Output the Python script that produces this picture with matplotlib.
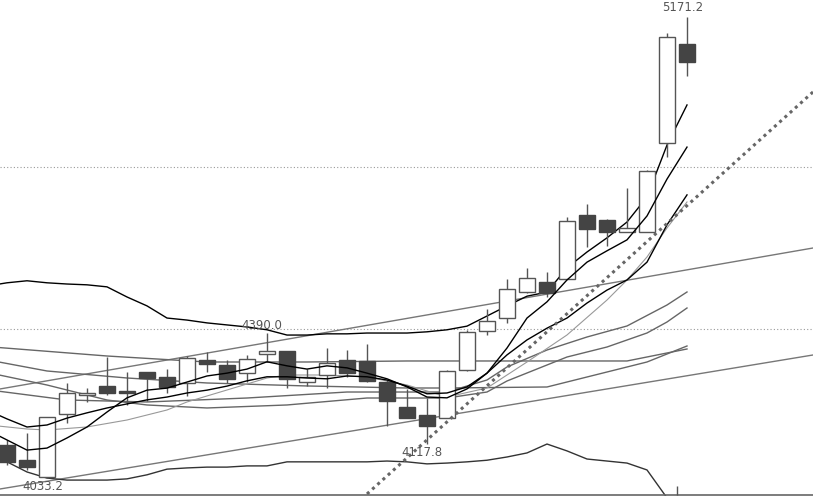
import matplotlib
matplotlib.use('Agg')
import matplotlib.pyplot as plt
from matplotlib.patches import Rectangle

# candle data (price), one per bar
opens = [4114.7, 4077.6, 4035.7, 4191.2, 4238.1, 4260.3, 4248.0, 4294.9, 4282.5, 4267.7,
         4324.5, 4312.1, 4292.4, 4339.3, 4346.7, 4270.2, 4287.5, 4324.5, 4322.0, 4270.2,
         4208.5, 4188.7, 4181.3, 4299.8, 4396.1, 4428.2, 4492.3, 4517.0, 4524.4, 4682.4,
         4670.1, 4640.5, 4640.5, 4860.2, 5104.5]
highs = [4127.0, 4144.3, 4183.8, 4267.7, 4255.4, 4331.9, 4294.9, 4294.9, 4302.3, 4334.4,
         4344.2, 4324.5, 4336.8, 4390.0, 4346.7, 4302.3, 4354.1, 4349.2, 4364.0, 4275.1,
         4252.9, 4230.7, 4299.8, 4398.5, 4450.4, 4524.4, 4551.6, 4541.7, 4677.5, 4709.6,
         4672.5, 4749.1, 4793.5, 5131.7, 5171.2]
lows = [4065.3, 4052.9, 4033.2, 4169.0, 4220.8, 4238.1, 4213.4, 4223.3, 4243.0, 4235.6,
        4294.9, 4267.7, 4270.2, 4319.5, 4255.4, 4260.3, 4255.4, 4282.5, 4270.2, 4161.6,
        4181.3, 4117.8, 4181.3, 4297.3, 4386.2, 4415.8, 4489.9, 4480.0, 4524.4, 4603.4,
        4605.9, 4640.5, 4640.5, 4825.6, 5025.5]
closes = [4072.7, 4060.4, 4183.8, 4243.0, 4243.0, 4243.0, 4243.0, 4280.1, 4257.8, 4329.4,
          4314.6, 4277.6, 4327.0, 4346.7, 4277.6, 4282.5, 4317.1, 4292.4, 4272.6, 4223.3,
          4181.3, 4161.6, 4297.3, 4393.6, 4420.8, 4499.7, 4526.9, 4489.9, 4667.6, 4647.9,
          4640.5, 4650.3, 4791.0, 5121.8, 5060.1]

# moving averages / bands, one value per bar, starting with the bar just off the left edge
line_x = list(range(-1, 35))
ma5 = [4152, 4127, 4102, 4107, 4132, 4159, 4196, 4231, 4250, 4255, 4270, 4285, 4292, 4302,
       4320, 4310, 4302, 4310, 4305, 4292, 4278, 4258, 4233, 4231, 4253, 4292, 4354, 4428,
       4468, 4522, 4566, 4594, 4621, 4680, 4771, 4850]
ma10 = [4201, 4179, 4159, 4164, 4181, 4194, 4206, 4216, 4226, 4233, 4243, 4250, 4260, 4273,
        4283, 4283, 4280, 4278, 4285, 4283, 4275, 4260, 4241, 4243, 4258, 4292, 4337, 4374,
        4403, 4428, 4465, 4497, 4522, 4566, 4658, 4732]
boll_up = [4507, 4515, 4520, 4515, 4512, 4510, 4505, 4480, 4458, 4428, 4423, 4416, 4411, 4406,
           4399, 4386, 4386, 4389, 4389, 4391, 4391, 4391, 4394, 4399, 4408, 4433, 4458, 4482,
           4492, 4552, 4591, 4626, 4665, 4727, 4855, 4954]
boll_dn = [4100, 4073, 4048, 4033, 4028, 4028, 4028, 4031, 4041, 4055, 4058, 4060, 4060, 4063,
           4063, 4073, 4073, 4073, 4073, 4073, 4075, 4073, 4068, 4070, 4073, 4077, 4085, 4095,
           4117, 4100, 4080, 4075, 4070, 4053, 3984, 3942]

# slower lines, read at selected bars (-0.35 is the left edge)
mid_x = [-0.35, 2, 4, 5, 7, 10, 14, 18, 22, 24, 25, 27, 28, 30, 32, 33, 34]
mid_y = [4287.0, 4262.7, 4238.0, 4225.7, 4213.4, 4206.0, 4213.4, 4230.6, 4230.6, 4245.4,
         4272.6, 4312.1, 4331.8, 4356.5, 4391.1, 4418.2, 4452.8]
g1_x = [-0.35, 5, 10, 15, 20, 25, 31, 34]
g1_y = [4355.0, 4334.3, 4319.5, 4319.5, 4322.0, 4322.0, 4322.0, 4351.6]
r_x = [-0.35, 2, 6, 10, 15, 20, 22, 27, 30, 32, 34]
r_y = [4319.0, 4297.3, 4280.0, 4267.7, 4260.3, 4255.3, 4255.3, 4257.8, 4294.8, 4319.5, 4359.0]
tg_x = [-0.35, 1, 2, 4, 6, 8, 9, 11, 13, 14, 16, 18, 20, 22, 24, 26, 28, 30, 31, 32, 33, 34]
tg_y = [4161.0, 4154.1, 4151.6, 4159.1, 4176.3, 4201.0, 4220.8, 4250.4, 4280.0, 4287.4,
        4287.4, 4282.5, 4262.7, 4233.1, 4255.3, 4319.5, 4386.2, 4472.5, 4521.9, 4578.7,
        4650.3, 4714.5]
p_x = [-0.35, 3, 7, 12, 17, 22, 24, 25, 27, 29, 31, 33, 34]
p_y = [4247.0, 4225.7, 4220.8, 4230.6, 4245.4, 4245.4, 4275.1, 4307.2, 4349.1, 4381.2,
       4408.4, 4460.2, 4492.3]

# trend lines (two end points each)
trend_up_x = [-0.35, 40.3]
trend_up_y = [4252.9, 4600.9]
trend_lo_x = [-0.35, 40.3]
trend_lo_y = [4006.0, 4336.8]
trend_dot_x = [18.0, 40.3]
trend_dot_y = [3993.7, 4986.0]

grid_levels = [4400, 4800]

fig = plt.figure(figsize=(8.13, 4.96), dpi=100)
ax = fig.add_axes([0, 0, 1, 1])
ax.set_xlim(-0.35, 40.3)
ax.set_ylim(3988.7, 5213.1)
ax.axis('off')

for g in grid_levels:
    ax.axhline(g, color='#999999', lw=0.8, ls=(0, (1, 2)), zorder=0)
ax.axhline(3991, color='#666666', lw=1.2, zorder=5)

# lines
ax.plot(trend_up_x, trend_up_y, color='#777777', lw=1.0, zorder=1)
ax.plot(trend_lo_x, trend_lo_y, color='#777777', lw=1.0, zorder=1)
ax.plot(g1_x, g1_y, color='#666666', lw=1.0, zorder=1)
ax.plot(r_x, r_y, color='#666666', lw=1.0, zorder=1)
ax.plot(p_x, p_y, color='#666666', lw=1.0, zorder=1)
ax.plot(mid_x, mid_y, color='#666666', lw=1.0, zorder=1)
ax.plot(tg_x, tg_y, color='#999999', lw=0.8, zorder=1)
ax.plot(line_x, boll_up, color='black', lw=1.0, zorder=2)
ax.plot(line_x, boll_dn, color='#333333', lw=1.0, zorder=2)
ax.plot(line_x, ma10, color='black', lw=1.0, zorder=4)
ax.plot(line_x, ma5, color='black', lw=1.0, zorder=4)
ax.plot(trend_dot_x, trend_dot_y, color='#666666', lw=2.2, ls=(0, (1, 1.3)), zorder=4)

# candles
w = 0.8
for i in range(len(opens)):
    o, h, l, c = opens[i], highs[i], lows[i], closes[i]
    ax.vlines(i, l, h, color='#555555', lw=1.0, zorder=3)
    lo, hi = min(o, c), max(o, c)
    if c >= o:
        ax.add_patch(Rectangle((i - w / 2, lo), w, hi - lo, facecolor='white',
                               edgecolor='#555555', lw=1.0, zorder=3))
    else:
        ax.add_patch(Rectangle((i - w / 2, lo), w, hi - lo, facecolor='#444444',
                               edgecolor='#444444', lw=1.0, zorder=3))

ax.vlines(33.5, 3991, 4013.4, color='#555555', lw=1.0, zorder=5)

# price labels
lab = dict(color='#555555', fontsize=8.5, ha='center', va='center', zorder=6)
ax.text(33.8, 5193.4, '5171.2', **lab)
ax.text(12.75, 4410.8, '4390.0', **lab)
ax.text(1.8, 4011.0, '4033.2', **lab)
ax.text(20.75, 4095.0, '4117.8', **lab)

plt.savefig('out.png', dpi=100)
